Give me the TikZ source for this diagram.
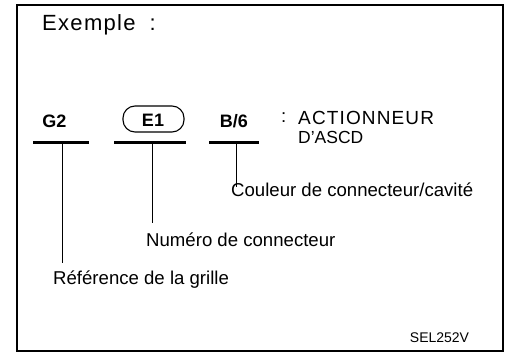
\documentclass[tikz,border=0pt]{standalone}
\usepackage{fontspec}
\setmainfont{Liberation Sans}
\usetikzlibrary{calc}

\begin{document}
\begin{tikzpicture}[
  x=1pt, y=-1pt,
  lbl/.style={inner sep=0pt, font=\fontsize{18.6}{20}\selectfont},
  code/.style={inner sep=0pt, font=\fontsize{18}{20}\selectfont\bfseries},
  bar/.style={line width=3pt},
  lead/.style={line width=0.7pt}
]
\useasboundingbox (0,0) rectangle (505,352);
% Frame
\draw[line width=2pt] (17,5) rectangle (503,351);
\node[inner sep=0pt, anchor=west, font=\fontsize{22}{24}\selectfont\addfontfeatures{LetterSpace=6}] (title) at (42,25) {Exemple\hspace{14pt}:};

% G2
\node[code] (g2) at (54.5,121.5) {G2};
\draw[bar] (33,143) -- (89,143);
\coordinate (g2bar) at (62,143);

% E1
\node[code] (e1) at (153,120.5) {E1};
\node[draw, line width=1.1pt, rounded corners=12pt, minimum width=61pt, minimum height=26pt] (e1box) at (153.5,119) {};
\draw[bar] (114,143) -- (186,143);
\coordinate (e1bar) at (152,143);

% B/6
\node[code] (b6) at (234,121.5) {B/6};
\draw[bar] (209,143) -- (259,143);
\coordinate (b6bar) at (236,143);

% Name
\node[lbl, anchor=west] (colon) at (281,118) {:};
\node[lbl, anchor=west, font=\fontsize{19}{20}\selectfont\addfontfeatures{LetterSpace=6}] (act) at (298,118) {ACTIONNEUR};
\node[lbl, anchor=west, font=\fontsize{17.5}{20}\selectfont] (ascd) at (298,137) {D'ASCD};

% Labels
\node[lbl, anchor=west] (couleur) at (231,189.5) {Couleur de connecteur/cavité};
\node[lbl, anchor=west] (numero) at (146,239.5) {Numéro de connecteur};
\node[lbl, anchor=west] (grille) at (53,280) {Référence de la grille};
\draw[lead] (b6bar) -- ($(b6bar |- couleur.north)+(0,5)$);
\draw[lead] (e1bar) -- ($(e1bar |- numero.north)+(0,-9)$);
\draw[lead] (g2bar) -- ($(g2bar |- grille.north)+(0,-8)$);

\node[inner sep=0pt, font=\fontsize{14}{15}\selectfont] (sel) at (439.5,338) {SEL252V};
\end{tikzpicture}
\end{document}
